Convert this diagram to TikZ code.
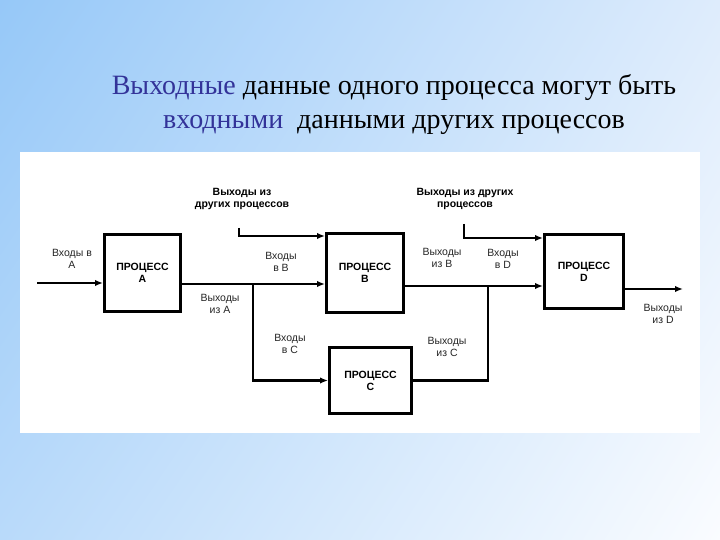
\documentclass[tikz,border=0pt]{standalone}
\usepackage{fontspec}
\setmainfont{Liberation Serif}
\setsansfont{Liberation Sans}
\newfontfamily\titlefont{Liberation Serif}
\usetikzlibrary{arrows.meta,shadings}
\definecolor{titleblue}{RGB}{51,51,153}
\definecolor{skyUL}{RGB}{150,200,248}
\definecolor{skyUR}{RGB}{222,236,252}
\definecolor{skyLL}{RGB}{185,218,250}
\definecolor{skyLR}{RGB}{250,252,255}

\begin{document}
\begin{tikzpicture}[x=1pt,y=-1pt, >={Latex[length=8pt,width=6.5pt]},
	process/.style={draw,line width=3pt,inner sep=0pt,align=center,font=\sffamily\bfseries\fontsize{10.5}{12}\selectfont},
	lbl/.style={align=center,text=black!85,font=\sffamily\fontsize{10.5}{12}\selectfont},
	olbl/.style={lbl,text=black,font=\sffamily\bfseries\fontsize{10.5}{12}\selectfont},
	link/.style={line width=2.4pt}]
				\useasboundingbox (0,0) rectangle (720,540);
				\shade [upper left=skyUL, upper right=skyUR, lower left=skyLL, lower right=skyLR] (0,0) rectangle (720,540);
				\fill [white] (20,152) rectangle (700,433);
				\node (title) at (394,105) [font=\titlefont\fontsize{28}{34}\selectfont, align=center] {\textcolor{titleblue}{Выходные} данные одного процесса могут быть\\\textcolor{titleblue}{входными}\ \ данными других процессов};
				% processes
				\node (procA) [process, minimum width=76pt, minimum height=77pt] at (142.5,273) {ПРОЦЕСС\\A};
				\node (procB) [process, minimum width=77pt, minimum height=79pt] at (365,273) {ПРОЦЕСС\\B};
				\node (procC) [process, minimum width=82pt, minimum height=66pt] at (370.5,380.5) {ПРОЦЕСС\\C};
				\node (procD) [process, minimum width=79pt, minimum height=74pt] at (584,271.5) {ПРОЦЕСС\\D};
				% free ends and joints
				\coordinate (inA) at (37,283);
				\coordinate (jA) at (253,284);
				\coordinate (jB) at (488,286);
				\coordinate (otherB) at (239,228);
				\coordinate (otherD) at (464,224);
				\coordinate (outD) at (683,289);
				\draw [->, link] (inA) -- (inA -| procA.west);
				\draw [->, link] (jA -| procA.east) -- (jA -| procB.west);
				\draw [->, link] (jA) |- (procC.west);
				\draw [->, link] (otherB) |- ([yshift=-4pt]procB.north west);
				\draw [->, link] (jB -| procB.east) -- (jB -| procD.west);
				\draw [link] (procC.east) -| (jB);
				\draw [->, link] (otherD) |- ([yshift=-5pt]procD.north west);
				\draw [->, link] (outD -| procD.east) -- (outD);
				% labels
				\node (inAlbl) [lbl] at (72,259) {Входы в\\A};
				\node (outAlbl) [lbl] at (220,304) {Выходы\\из A};
				\node (inBlbl) [lbl] at (281,262) {Входы\\в B};
				\node (otherBlbl) [olbl] at (242,198.5) {Выходы из\\других процессов};
				\node (outBlbl) [lbl] at (442,258) {Выходы\\из B};
				\node (inDlbl) [lbl] at (503,259) {Входы\\в D};
				\node (otherDlbl) [olbl] at (465,198.5) {Выходы из других\\процессов};
				\node (outDlbl) [lbl] at (663,314) {Выходы\\из D};
				\node (inClbl) [lbl] at (290,344) {Входы\\в C};
				\node (outClbl) [lbl] at (447,346.5) {Выходы\\из C};
			\end{tikzpicture}
\end{document}
